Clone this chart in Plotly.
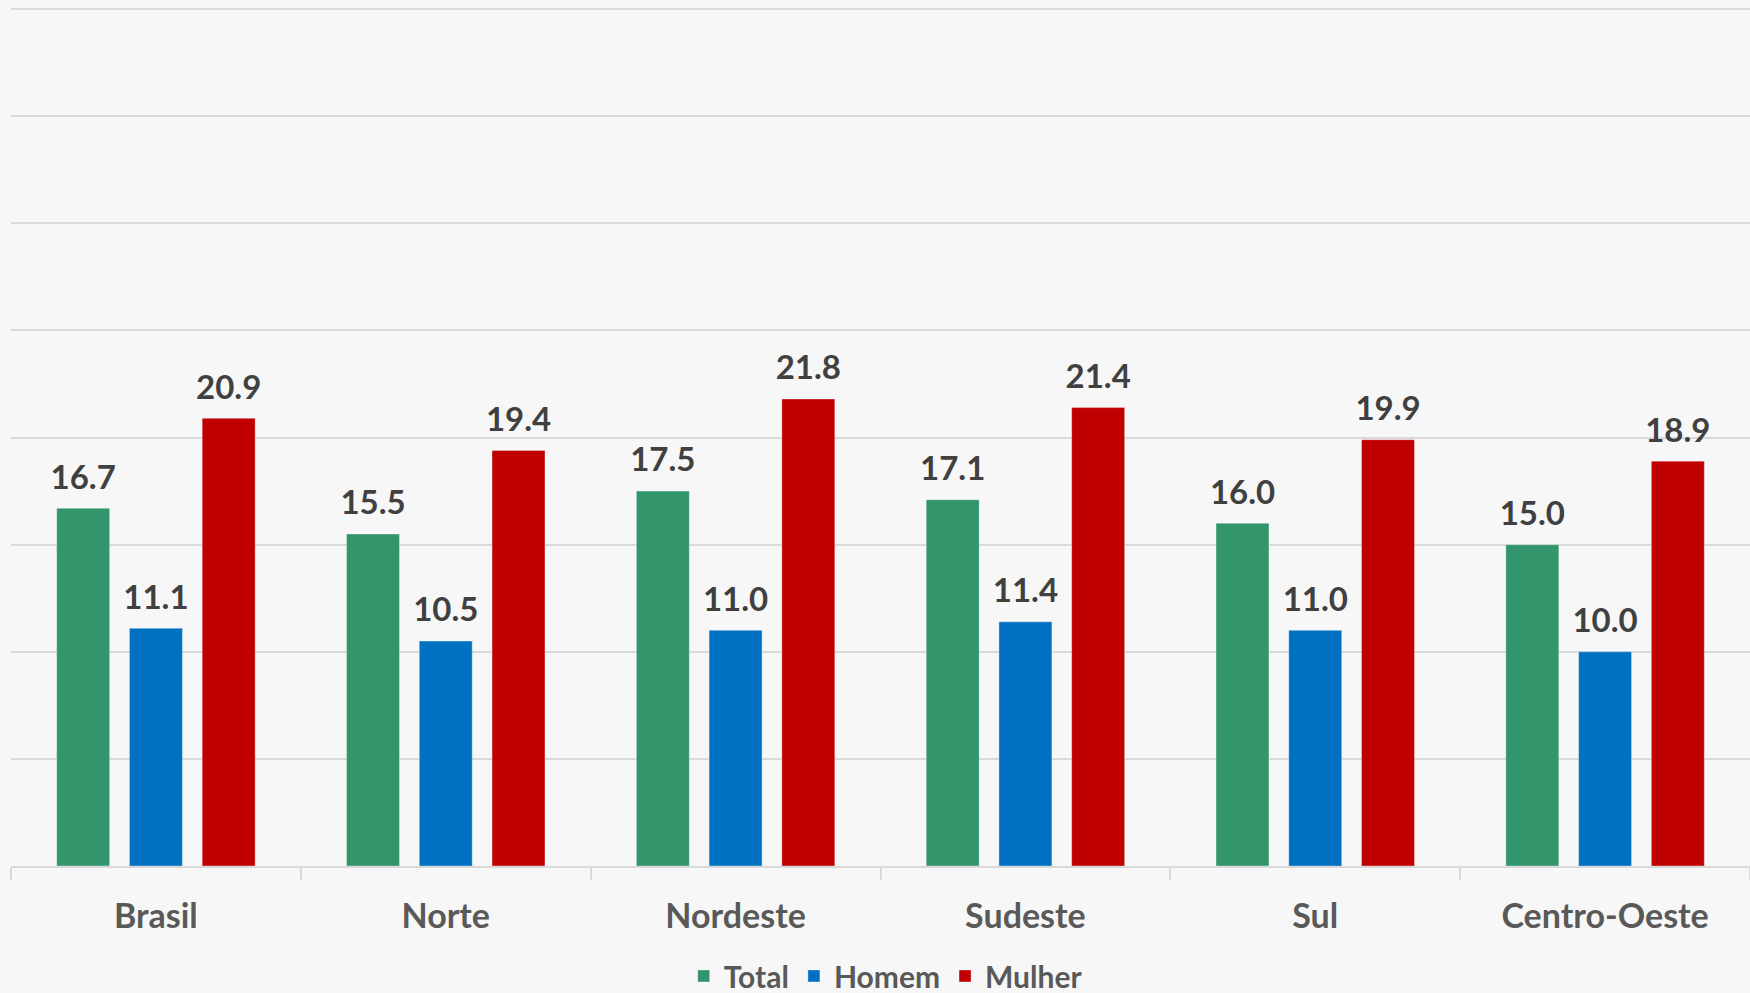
import plotly.graph_objects as go

regions = ["Brasil", "Norte", "Nordeste", "Sudeste", "Sul", "Centro-Oeste"]
total = [16.7, 15.5, 17.5, 17.1, 16.0, 15.0]
homem = [11.1, 10.5, 11.0, 11.4, 11.0, 10.0]
mulher = [20.9, 19.4, 21.8, 21.4, 19.9, 18.9]

series = [("Total", total, "#33956B"), ("Homem", homem, "#0070C0"), ("Mulher", mulher, "#C00000")]

FONT = "Lato"
LABEL_PAD = 0.45  # gap (in axis units) between bar top and its value label

fig = go.Figure()
for name, vals, color in series:
    fig.add_trace(go.Bar(
        x=regions, y=vals, name=name, offsetgroup=name,
        marker=dict(color=color, line=dict(color="rgba(255,255,255,0.35)", width=1)),
    ))
# label overlays: same offset groups, transparent spacer bars sitting on top of each bar
for name, vals, color in series:
    fig.add_trace(go.Bar(
        x=regions, y=[LABEL_PAD] * len(vals), base=vals,
        name=name + " rótulo", offsetgroup=name, showlegend=False,
        marker=dict(color="rgba(0,0,0,0)", line=dict(width=0)),
        text=[f"{v:.1f}" for v in vals],
        textposition="outside",
        constraintext="none",
        cliponaxis=False,
        hoverinfo="skip",
        textfont=dict(family=FONT, size=33, color="#404040", weight="bold"),
    ))

fig.update_layout(
    width=1750, height=993,
    margin=dict(l=11, r=0, t=7, b=127, autoexpand=False),
    paper_bgcolor="#F7F7F7", plot_bgcolor="#F7F7F7",
    barmode="group", bargap=0.247, bargroupgap=0.272,
    showlegend=True,
    legend=dict(orientation="h", xanchor="center", x=0.503, yanchor="middle", y=-0.128,
                font=dict(family=FONT, size=30, color="#595959", weight="bold"),
                bgcolor="rgba(0,0,0,0)", itemwidth=30, tracegroupgap=0),
    xaxis=dict(showline=True, linecolor="#D9D9D9", linewidth=2,
               ticks="outside", tickson="boundaries", ticklen=12, tickcolor="#D9D9D9", tickwidth=2,
               tickfont=dict(family=FONT, size=34, color="#595959", weight="bold"),
               ticklabelstandoff=19, showgrid=False),
    yaxis=dict(range=[0, 40.1], dtick=5, showticklabels=False, showgrid=True,
               gridcolor="#D9D9D9", gridwidth=2, zeroline=False, showline=False, ticks=""),
)

fig.write_html("out.html", config={"displayModeBar": False},
               post_script="document.body.style.margin='0';document.body.style.overflow='hidden';")
